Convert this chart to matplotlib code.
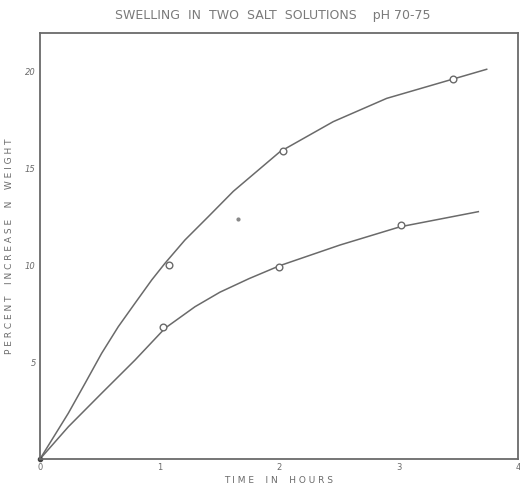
import matplotlib
matplotlib.use("Agg")
import matplotlib.pyplot as plt

# Curve traces (hours, percent increase in weight)
upper_x = [0.0, 0.237, 0.377, 0.516, 0.655, 0.795, 0.935, 1.046, 1.213, 1.408,
           1.618, 2.008, 2.454, 2.901, 3.459, 3.738]
upper_y = [0.0, 2.36, 3.90, 5.45, 6.82, 8.03, 9.23, 10.09, 11.29, 12.49,
           13.80, 15.84, 17.39, 18.59, 19.59, 20.09]
lower_x = [0.0, 0.237, 0.516, 0.795, 1.046, 1.297, 1.506, 1.75, 2.008, 2.51,
           3.013, 3.668]
lower_y = [0.0, 1.66, 3.39, 5.10, 6.74, 7.85, 8.60, 9.30, 9.97, 11.03,
           11.97, 12.75]

# Observed points (open circles)
upper_pts_x = [1.08, 2.03, 3.46]
upper_pts_y = [10.0, 15.9, 19.6]
lower_pts_x = [1.03, 2.00, 3.02]
lower_pts_y = [6.8, 9.9, 12.06]

# Stray mark on the sheet
stray_x = [1.66]
stray_y = [12.35]

x_ticks = [0, 1, 2, 3, 4]
x_tick_labels = ["0", "1", "2", "3", "4"]
y_ticks = [5, 10, 15, 20]
y_tick_labels = ["5", "10", "15", "20"]

ink = "#6a6a6a"

fig = plt.figure(figsize=(5.2, 4.87), dpi=100)
ax = fig.add_axes([40/520, 28/487, 478/520, 426/487])
ax.set_xlim(0, 4)
ax.set_ylim(0, 21.96)

ax.plot(upper_x, upper_y, color=ink, lw=1.1, solid_joinstyle="round")
ax.plot(lower_x, lower_y, color=ink, lw=1.1, solid_joinstyle="round")
ax.plot(upper_pts_x, upper_pts_y, "o", ms=4.8, mfc="white", mec=ink, mew=1.0)
ax.plot(lower_pts_x, lower_pts_y, "o", ms=4.8, mfc="white", mec=ink, mew=1.0)
ax.plot(stray_x, stray_y, "o", ms=2, color="#888888")
ax.plot([0], [0], "o", ms=3, color="#444444", clip_on=False)

for s in ax.spines.values():
    s.set_color(ink)
    s.set_linewidth(1.3)

ax.set_xticks(x_ticks)
ax.set_xticklabels(x_tick_labels, fontsize=6, color=ink)
ax.set_yticks(y_ticks)
ax.set_yticklabels(y_tick_labels, fontsize=6, color=ink, fontstyle="italic")
ax.tick_params(axis="both", length=0, pad=3)

ax.set_xlabel("T I M E    I N    H O U R S", fontsize=6.5, color=ink, labelpad=3)
ax.set_ylabel("P E R C E N T    I N C R E A S E    N    W E I G H T", fontsize=6.5,
              color=ink, labelpad=8)

fig.text(273/520, 1 - 16/487, "SWELLING  IN  TWO  SALT  SOLUTIONS    pH 70-75",
         ha="center", va="center", fontsize=9, color="#7a7a7a")

fig.savefig("out.png", dpi=100)
